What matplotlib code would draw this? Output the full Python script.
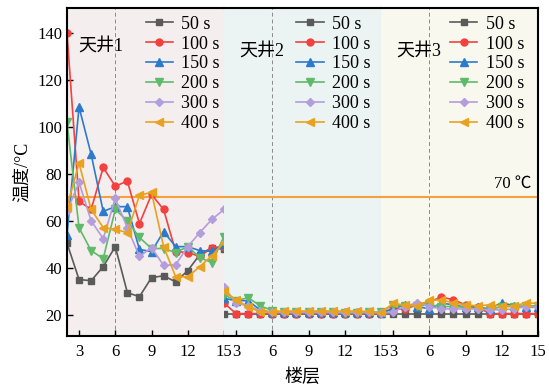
import matplotlib
matplotlib.use("Agg")
import matplotlib.pyplot as plt

plt.rcParams['font.family'] = ['Liberation Serif', 'Noto Sans CJK SC']
plt.rcParams['mathtext.fontset'] = 'stix'

floors = [2, 3, 4, 5, 6, 7, 8, 9, 10, 11, 12, 13, 14, 15]
xticks = [3, 6, 9, 12, 15]
yticks = [20, 40, 60, 80, 100, 120, 140]
times = ["50 s", "100 s", "150 s", "200 s", "300 s", "400 s"]
panel_names = ["天井1", "天井2", "天井3"]
limit_temp = 70

# 天井1
w1_50 = [50.5, 35, 34.5, 40.5, 49, 29.4, 27.7, 35.8, 36.6, 34, 38.8, 45.6, 48.6, 47.8]
w1_100 = [140, 68.3, 64.8, 82.7, 74.7, 76.9, 58.8, 71.2, 64.8, 46.9, 46.5, 44.8, 48.6, 49]
w1_150 = [54, 108.4, 88.3, 64, 66, 66, 47.8, 46.9, 55.4, 49, 49, 47.3, 47, 50]
w1_200 = [102, 57, 47.3, 43.9, 64.8, 60, 52.9, 48.2, 48.2, 46.5, 49, 44.3, 42.2, 53.3]
w1_300 = [64, 76.4, 60, 52.4, 69.5, 57, 44.8, 48.6, 41, 41.3, 49, 55, 60.6, 64.8]
w1_400 = [66, 84.5, 64.8, 57.1, 56.3, 55, 70.8, 72.1, 49, 36.2, 36.2, 40.5, 45.2, 50.7]

# 天井2
w2_50 = [20.5, 20.5, 20.5, 20.5, 20.5, 20.5, 20.5, 20.5, 20.5, 20.5, 20.5, 20.5, 20.5, 20.5]
w2_100 = [25, 20.5, 20.5, 20.5, 20.5, 20.5, 20.5, 20.5, 20.5, 20.5, 20.5, 20.5, 20.5, 20.5]
w2_150 = [27, 26, 26, 22, 21, 21, 21, 21, 21, 21, 21, 21, 21, 21]
w2_200 = [28.5, 26, 27.3, 23.8, 21.8, 21, 21, 21, 21, 21, 20.8, 20.8, 21, 21]
w2_300 = [31.8, 25, 23.8, 21.8, 21, 21, 21, 21, 21, 21, 21, 21, 21, 20.8]
w2_400 = [30, 26.4, 23.3, 21.3, 21.3, 21.6, 21.6, 21.6, 21.6, 21.6, 21.6, 21.6, 21.4, 20.8]

# 天井3
w3_50 = [20.5, 20.5, 20.5, 20.5, 20.5, 20.5, 20.5, 20.5, 20.5, 20.5, 20.5, 20.5, 20.5, 20.5]
w3_100 = [21, 22.5, 22.5, 24.2, 25.6, 27.5, 26.4, 24.2, 23.2, 20.5, 20.5, 20.5, 20.5, 20.5]
w3_150 = [20.7, 22.5, 24.2, 23.5, 22.5, 25, 24.2, 23.2, 23.2, 22.5, 25.2, 23.8, 23.2, 23.2]
w3_200 = [21.2, 24.2, 23.8, 23.8, 24.2, 23.5, 23.5, 23.2, 22.5, 22.1, 23.5, 23.5, 23.8, 23.8]
w3_300 = [20.7, 21.2, 23.5, 25.2, 23.5, 22.5, 22.5, 22.5, 22.5, 22.1, 22.1, 22.5, 23.5, 23.2]
w3_400 = [21, 24.8, 24.2, 23.8, 26.1, 26.4, 25, 24.2, 23.8, 24.2, 23.8, 23.8, 25, 24.8]

panels = [
    [w1_50, w1_100, w1_150, w1_200, w1_300, w1_400],
    [w2_50, w2_100, w2_150, w2_200, w2_300, w2_400],
    [w3_50, w3_100, w3_150, w3_200, w3_300, w3_400],
]

colors = ["#5a5a5a", "#f2413f", "#2c7bcb", "#5fba6a", "#b49ddb", "#e9a21f"]
markers = ["s", "o", "^", "v", "D", "<"]
msizes = [5, 5, 6, 6, 4.5, 6]
facecolors = ["#f4eeee", "#ebf4f3", "#f9f8ee"]
legend_x = [1.04, 1.0, 0.98]

fig = plt.figure(figsize=(5.49, 3.87), dpi=100)
gs = fig.add_gridspec(1, 3, left=0.122, right=0.980, top=0.979, bottom=0.132, wspace=0)
axes = [fig.add_subplot(gs[0, i]) for i in range(3)]

for i, ax in enumerate(axes):
    ax.set_facecolor(facecolors[i])
    for series, c, m, ms, lab in zip(panels[i], colors, markers, msizes, times):
        ax.plot(floors, series, color=c, marker=m, markersize=ms, lw=1.2, label=lab)
    ax.axhline(limit_temp, color="#f5a03a", lw=1.5, zorder=1)
    ax.axvline(6, color="#8a8a8a", lw=0.7, ls=(0, (4, 3)), zorder=0.5)
    ax.set_xlim(2, 15)
    ax.set_ylim(11, 150.5)
    ax.set_xticks(xticks)
    ax.set_xticklabels([str(t) for t in xticks])
    ax.tick_params(axis="x", direction="in", length=4, width=1, labelsize=12, pad=6)
    ax.tick_params(axis="y", direction="in", length=4, width=1, labelsize=12)
    for s in ax.spines.values():
        s.set_linewidth(1.5)
    ax.spines["left"].set_visible(i == 0)
    ax.spines["right"].set_visible(i == 2)
    if i == 0:
        ax.set_yticks(yticks)
    else:
        ax.set_yticks([])
    ax.text(0.07 if i == 0 else 0.10, 0.885 if i == 0 else 0.87, panel_names[i],
            transform=ax.transAxes, fontsize=13, ha="left", va="center")
    ax.legend(loc="upper right", bbox_to_anchor=(legend_x[i], 1.01), frameon=False,
              fontsize=13, handlelength=1.5, handletextpad=0.45,
              labelspacing=0.16, borderaxespad=0.2, numpoints=1)

axes[2].text(0.96, 70 + 2.5, "70 ℃", transform=axes[2].get_yaxis_transform(),
             fontsize=12, ha="right", va="bottom")

axes[0].set_ylabel("温度/°C", fontsize=13, labelpad=4)
axes[1].set_xlabel("楼层", fontsize=13, labelpad=6)

fig.savefig("out.png", dpi=100)
